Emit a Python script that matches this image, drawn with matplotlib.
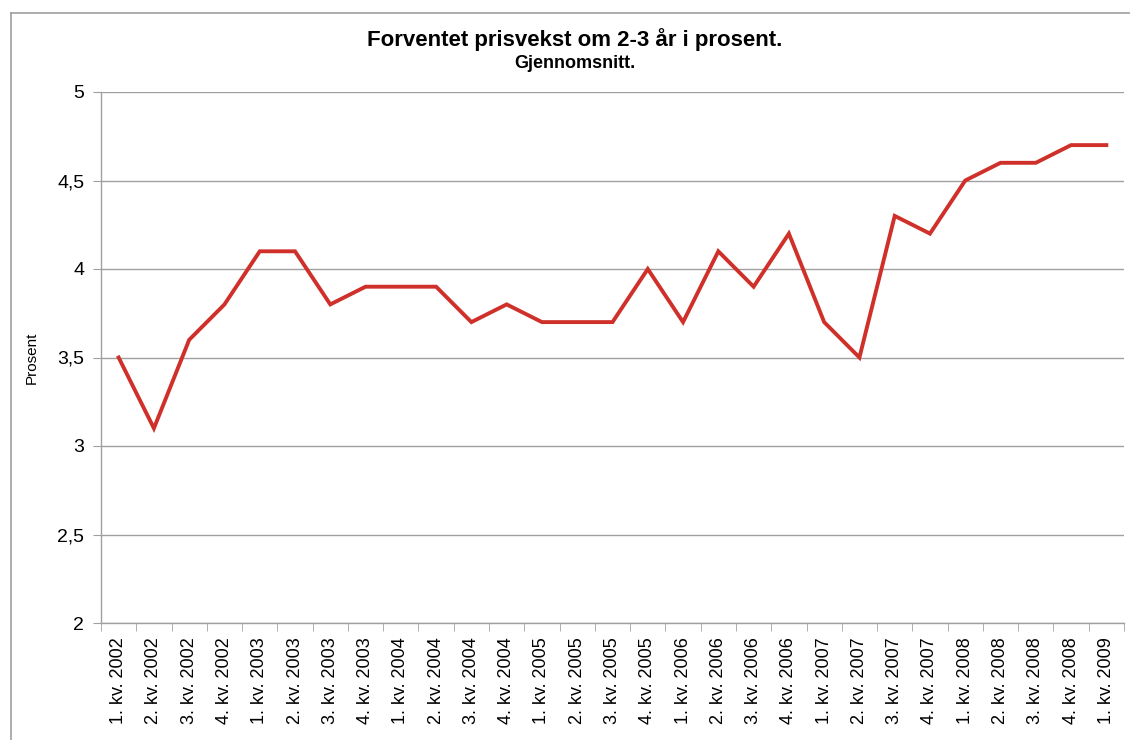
import matplotlib
matplotlib.use("Agg")
import matplotlib.pyplot as plt
from matplotlib.lines import Line2D

plt.rcParams['font.family'] = ['Liberation Sans', 'DejaVu Sans']

quarters = ["1. kv. 2002", "2. kv. 2002", "3. kv. 2002", "4. kv. 2002",
            "1. kv. 2003", "2. kv. 2003", "3. kv. 2003", "4. kv. 2003",
            "1. kv. 2004", "2. kv. 2004", "3. kv. 2004", "4. kv. 2004",
            "1. kv. 2005", "2. kv. 2005", "3. kv. 2005", "4. kv. 2005",
            "1. kv. 2006", "2. kv. 2006", "3. kv. 2006", "4. kv. 2006",
            "1. kv. 2007", "2. kv. 2007", "3. kv. 2007", "4. kv. 2007",
            "1. kv. 2008", "2. kv. 2008", "3. kv. 2008", "4. kv. 2008",
            "1. kv. 2009"]
values = [3.5, 3.1, 3.6, 3.8, 4.1, 4.1, 3.8, 3.9, 3.9, 3.9, 3.7, 3.8,
          3.7, 3.7, 3.7, 4.0, 3.7, 4.1, 3.9, 4.2, 3.7, 3.5, 4.3, 4.2,
          4.5, 4.6, 4.6, 4.7, 4.7]
yticks = [2, 2.5, 3, 3.5, 4, 4.5, 5]
ytick_labels = ["2", "2,5", "3", "3,5", "4", "4,5", "5"]

W, H = 1130, 740
fig = plt.figure(figsize=(W / 100, H / 100), dpi=100)
fig.patch.set_facecolor('white')

ax = fig.add_axes([101 / W, 1 - 623 / H, (1124 - 101) / W, (623 - 92) / H])
n = len(quarters)
x = list(range(n))
ax.plot(x, values, color='#D0302A', linewidth=2.8, solid_joinstyle='miter', zorder=3)

ax.set_xlim(-0.5, n - 0.5)
ax.set_ylim(2, 5)
ax.set_yticks(yticks)
ax.set_yticklabels(ytick_labels, fontsize=14)
ax.set_xticks(x)
ax.set_xticklabels(quarters, rotation=90, fontsize=13)
ax.set_xticks([i - 0.5 for i in range(n + 1)], minor=True)
ax.tick_params(axis='x', which='major', length=0, pad=10)
ax.tick_params(axis='x', which='minor', length=6, color='#A0A0A0', direction='out')
ax.tick_params(axis='y', length=6, color='#A0A0A0', pad=6)

ax.grid(axis='y', color='#A0A0A0', linewidth=1)
ax.set_axisbelow(True)
for s in ['top', 'right']:
    ax.spines[s].set_visible(False)
for s in ['left', 'bottom']:
    ax.spines[s].set_color('#A0A0A0')
    ax.spines[s].set_linewidth(1)

ax.set_ylabel("Prosent", fontsize=11)
ax.yaxis.set_label_coords((39 - 101) / (1124 - 101), 0.5)

fig.text(575 / W, 1 - 40 / H, "Forventet prisvekst om 2-3 år i prosent.",
         ha='center', va='center', fontsize=16, fontweight='bold')
fig.text(575 / W, 1 - 63 / H, "Gjennomsnitt.",
         ha='center', va='center', fontsize=13, fontweight='bold')

# outer chart border (partly cropped)
fig.add_artist(Line2D([11 / W, 11 / W], [0, 1 - 13 / H], color='#A0A0A0', linewidth=1.2))
fig.add_artist(Line2D([11 / W, 1], [1 - 13 / H, 1 - 13 / H], color='#A0A0A0', linewidth=1.2))

fig.savefig("out.png", dpi=100)
